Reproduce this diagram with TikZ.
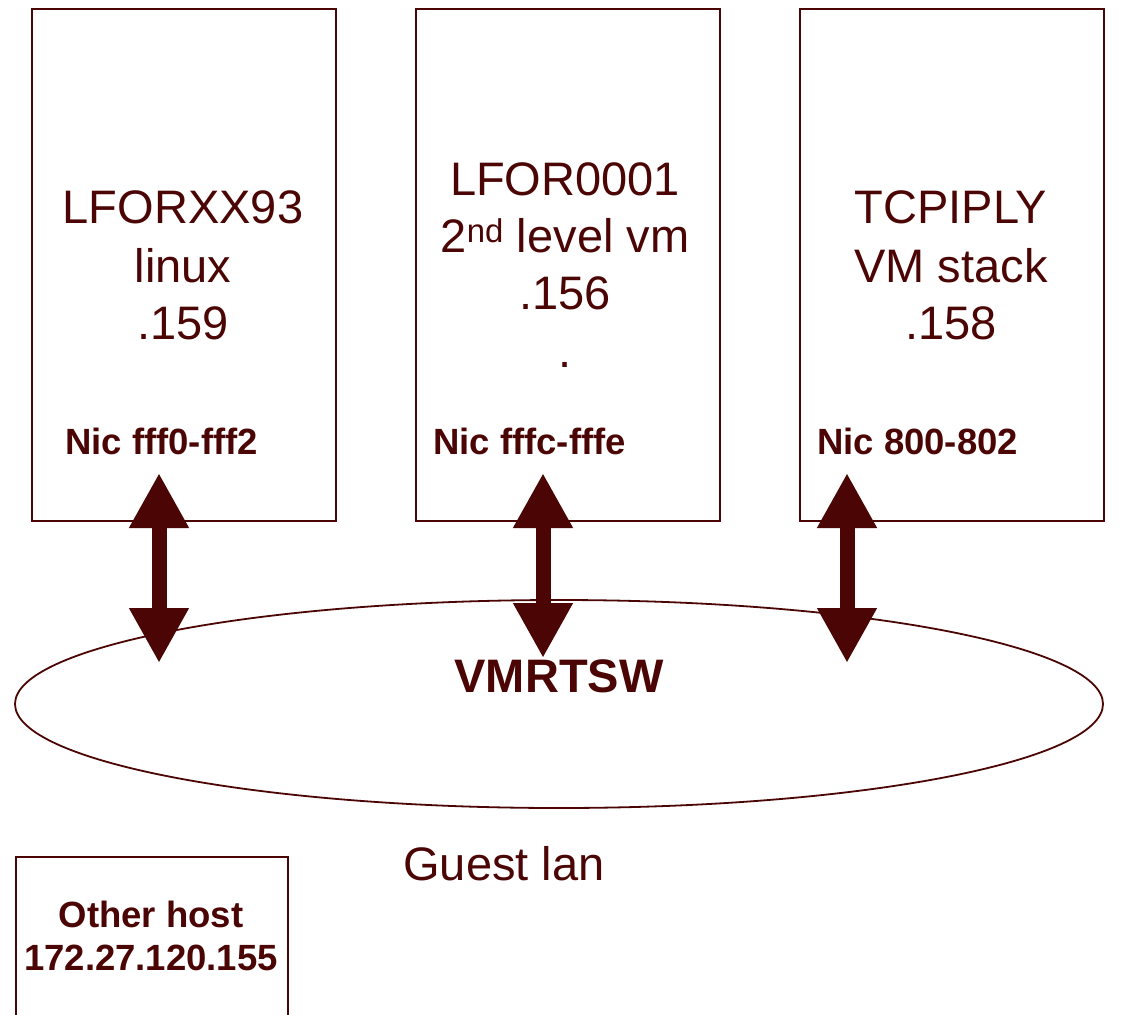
\documentclass[tikz,border=0pt]{standalone}
\usepackage{fontspec}
\setmainfont{Liberation Sans}
\usetikzlibrary{shapes.geometric,arrows.meta}
\definecolor{mar}{RGB}{75,5,5}
\begin{document}
\begin{tikzpicture}[x=1pt,y=-1pt,
  box/.style={draw=mar,line width=1.8pt,rectangle,inner sep=0pt,anchor=north west},
  big/.style={text=mar,font=\fontsize{47}{56}\selectfont,anchor=base,inner sep=0pt},
  bigb/.style={big,font=\fontsize{47}{56}\selectfont\bfseries},
  nic/.style={text=mar,font=\fontsize{36.5}{43}\selectfont\bfseries,anchor=base west,inner sep=0pt},
  host/.style={nic,anchor=base},
  dbl/.style={draw=mar,line width=15pt,{Triangle[length=55pt,width=56pt]}-{Triangle[length=55pt,width=56pt]}}]
\useasboundingbox (0,0) rectangle (1129,1014);
% boxes
\node[box,minimum width=304pt,minimum height=512pt] (b1) at (31,8) {};
\node[box,minimum width=304pt,minimum height=512pt] (b2) at (415,8) {};
\node[box,minimum width=304pt,minimum height=512pt] (b3) at (799,8) {};
\node[box,minimum width=272pt,minimum height=200pt] (oh) at (15,856) {};
% switch ellipse
\node[draw=mar,line width=1.8pt,ellipse,minimum width=1088pt,minimum height=208pt,inner sep=0pt] (sw) at (559,704) {};
% box 1 text
\node[big] (t11) at (183,223) {LFORXX93};
\node[big] (t12) at (183,282) {linux};
\node[big] (t13) at (183,339) {.159};
\node[nic] (n1) at (65,454) {Nic fff0-fff2};
% box 2 text
\node[big] (t21) at (565,195) {LFOR0001};
\node[big] (t22) at (565,252) {2\textsuperscript{nd} level vm};
\node[big] (t23) at (565,309) {.156};
\node[big] (t24) at (565,367) {.};
\node[nic] (n2) at (433,454) {Nic fffc-fffe};
% box 3 text
\node[big] (t31) at (951,223) {TCPIPLY};
\node[big] (t32) at (951,282) {VM stack};
\node[big] (t33) at (951,339) {.158};
\node[nic] (n3) at (817,454) {Nic 800-802};
% switch labels
\node[bigb] (swl) at (559,692) {VMRTSW};
\node[big] (gl) at (504,880) {Guest lan};
% other host
\node[host] (oh1) at (151,927) {Other host};
\node[host] (oh2) at (151,970) {172.27.120.155};
% arrows
\coordinate (a1t) at (159,473);
\coordinate (a1b) at (159,663);
\coordinate (a2t) at (543,473);
\coordinate (a2b) at (543,658);
\coordinate (a3t) at (847,473);
\coordinate (a3b) at (847,663);
\draw[dbl] (a1t) -- (a1b);
\draw[dbl] (a2t) -- (a2b);
\draw[dbl] (a3t) -- (a3b);
\end{tikzpicture}
\end{document}
